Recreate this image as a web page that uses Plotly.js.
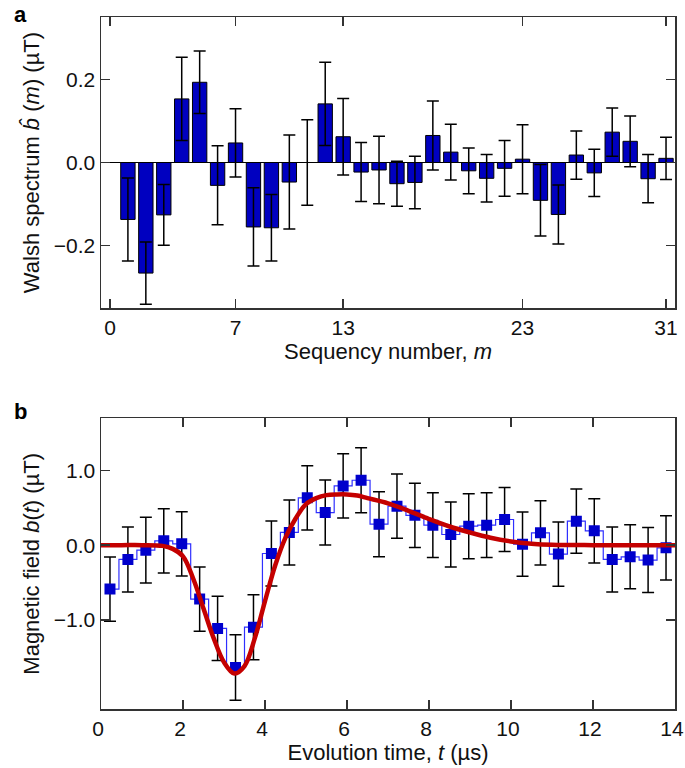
<!DOCTYPE html>
<html>
<head>
<meta charset="utf-8">
<script src="https://cdn.plot.ly/plotly-3.0.1.min.js"></script>
<style>html,body{margin:0;padding:0;background:#fff;}</style>
</head>
<body>
<div id="chart" style="width:685px;height:768px;"></div>
<script>
// Panel a: Walsh spectrum
const sequency = [1,2,3,4,5,6,7,8,9,10,11,12,13,14,15,16,17,18,19,20,21,22,23,24,25,26,27,28,29,30,31];
const walshValues = [-0.137,-0.266,-0.126,0.153,0.193,-0.055,0.047,-0.155,-0.157,-0.047,0.0,0.141,0.062,-0.023,-0.018,-0.051,-0.048,0.065,0.025,-0.020,-0.038,-0.014,0.008,-0.091,-0.125,0.018,-0.025,0.073,0.051,-0.039,0.010];
const walshErrors = [0.10,0.075,0.073,0.10,0.075,0.095,0.082,0.094,0.08,0.113,0.103,0.10,0.092,0.071,0.081,0.054,0.063,0.083,0.067,0.055,0.057,0.067,0.083,0.086,0.071,0.058,0.057,0.058,0.061,0.058,0.051];
const seqTicks = [0,7,13,23,31];

// Panel b: reconstructed magnetic field
const timeCenters = [0.219,0.656,1.094,1.531,1.969,2.406,2.844,3.281,3.719,4.156,4.594,5.031,5.469,5.906,6.344,6.781,7.219,7.656,8.094,8.531,8.969,9.406,9.844,10.281,10.719,11.156,11.594,12.031,12.469,12.906,13.344,13.781];
const fieldValues = [-0.589,-0.192,-0.067,0.058,0.018,-0.723,-1.116,-1.64,-1.10,-0.112,0.17,0.634,0.437,0.794,0.87,0.281,0.522,0.40,0.268,0.143,0.254,0.268,0.344,0.013,0.165,-0.12,0.321,0.192,-0.192,-0.156,-0.20,-0.036];
const fieldErrors = [0.43,0.435,0.44,0.43,0.43,0.43,0.43,0.44,0.435,0.435,0.435,0.43,0.435,0.43,0.435,0.435,0.43,0.43,0.435,0.435,0.435,0.435,0.43,0.43,0.43,0.43,0.43,0.43,0.435,0.43,0.435,0.43];

// Fit curve
const fitTime = [0,0.5,1.0,1.5,1.75,2.0,2.25,2.5,2.75,3.0,3.25,3.5,3.75,4.0,4.25,4.5,4.75,5.0,5.25,5.5,5.75,6.0,6.25,6.5,7.0,7.5,8.0,8.5,9.0,9.5,10.0,10.5,11.0,12.0,13.0,14.0];
const fitValues = [0,0,0,-0.01,-0.05,-0.15,-0.45,-0.85,-1.25,-1.57,-1.72,-1.62,-1.25,-0.75,-0.27,0.10,0.36,0.55,0.63,0.67,0.68,0.68,0.665,0.63,0.56,0.46,0.35,0.25,0.17,0.10,0.05,0.02,0.005,0,0,0];
const timeTicks = [0,2,4,6,8,10,12,14];
const fieldTicks = [-1,0,1];
const walshTicks = [-0.2,0,0.2];

const FONT = 'Liberation Sans, Arial, Helvetica, sans-serif';
const FS = 22;
const TFS = 21;

const traces = [
  {
    type: 'bar', x: sequency, y: walshValues, width: 0.8,
    marker: {color: '#0000c0', line: {color: '#000', width: 1}},
    error_y: {type: 'data', array: walshErrors, visible: true, color: '#000', thickness: 1.5, width: 6},
    xaxis: 'x', yaxis: 'y', hoverinfo: 'skip'
  },
  {
    type: 'scatter', mode: 'lines', x: timeCenters, y: fieldValues,
    line: {shape: 'hvh', color: '#2f2fff', width: 1.2},
    xaxis: 'x2', yaxis: 'y2', hoverinfo: 'skip'
  },
  {
    type: 'scatter', mode: 'markers', x: timeCenters, y: fieldValues,
    marker: {symbol: 'square', size: 11, color: '#0000cc'},
    error_y: {type: 'data', array: fieldErrors, visible: true, color: '#000', thickness: 1.5, width: 6},
    xaxis: 'x2', yaxis: 'y2', hoverinfo: 'skip'
  },
  {
    type: 'scatter', mode: 'lines', x: fitTime, y: fitValues,
    line: {shape: 'spline', color: '#c40000', width: 4.5},
    xaxis: 'x2', yaxis: 'y2', hoverinfo: 'skip'
  }
];

const axCommon = {
  showline: true, linecolor: '#333', linewidth: 1.5, mirror: 'ticks',
  ticks: 'inside', ticklen: 9, tickwidth: 1.5, tickcolor: '#333',
  showgrid: false, automargin: false, ticklabeloverflow: 'allow',
  tickfont: {family: FONT, size: TFS, color: '#111'}
};

const layout = {
  width: 685, height: 768,
  margin: {l: 0, r: 0, t: 0, b: 0},
  paper_bgcolor: '#fff', plot_bgcolor: '#fff',
  showlegend: false,
  font: {family: FONT, size: FS, color: '#111'},
  xaxis: Object.assign({}, axCommon, {
    domain: [101/685, 675/685], range: [-0.5, 31.5],
    tickvals: seqTicks, ticktext: seqTicks.map(String), zeroline: false,
    anchor: 'y',
    title: {text: 'Sequency number, <i>m</i>', font: {family: FONT, size: FS, color: '#111'}, standoff: 4}
  }),
  yaxis: Object.assign({}, axCommon, {
    domain: [1 - 308/768, 1 - 17/768], range: [-0.35, 0.35],
    tickvals: walshTicks, tickformat: '.1f',
    zeroline: true, zerolinecolor: '#000', zerolinewidth: 1.2,
    anchor: 'x',
    title: {text: 'Walsh spectrum <i>b̂</i> (<i>m</i>) (µT)', font: {family: FONT, size: FS, color: '#111'}, standoff: 8}
  }),
  xaxis2: Object.assign({}, axCommon, {
    domain: [101/685, 675/685], range: [0, 14],
    tickvals: timeTicks, zeroline: false, anchor: 'y2', ticklabelshift: -3,
    title: {text: 'Evolution time, <i>t</i> (µs)', font: {family: FONT, size: FS, color: '#111'}, standoff: 4}
  }),
  yaxis2: Object.assign({}, axCommon, {
    domain: [1 - 709.3/768, 1 - 418.3/768], range: [-2.2, 1.7],
    tickvals: fieldTicks, tickformat: '.1f', zeroline: false, anchor: 'x2',
    title: {text: 'Magnetic field <i>b</i>(<i>t</i>) (µT)', font: {family: FONT, size: FS, color: '#111'}, standoff: 8}
  }),
  annotations: [
    {text: '<b>a</b>', xref: 'paper', yref: 'paper', x: 12/685, y: 1 - 0/768, xanchor: 'left', yanchor: 'top', showarrow: false, font: {family: FONT, size: 22, color: '#000'}},
    {text: '<b>b</b>', xref: 'paper', yref: 'paper', x: 12/685, y: 1 - 397/768, xanchor: 'left', yanchor: 'top', showarrow: false, font: {family: FONT, size: 22, color: '#000'}}
  ]
};

Plotly.newPlot('chart', traces, layout, {displayModeBar: false, staticPlot: true});
</script>
</body>
</html>
